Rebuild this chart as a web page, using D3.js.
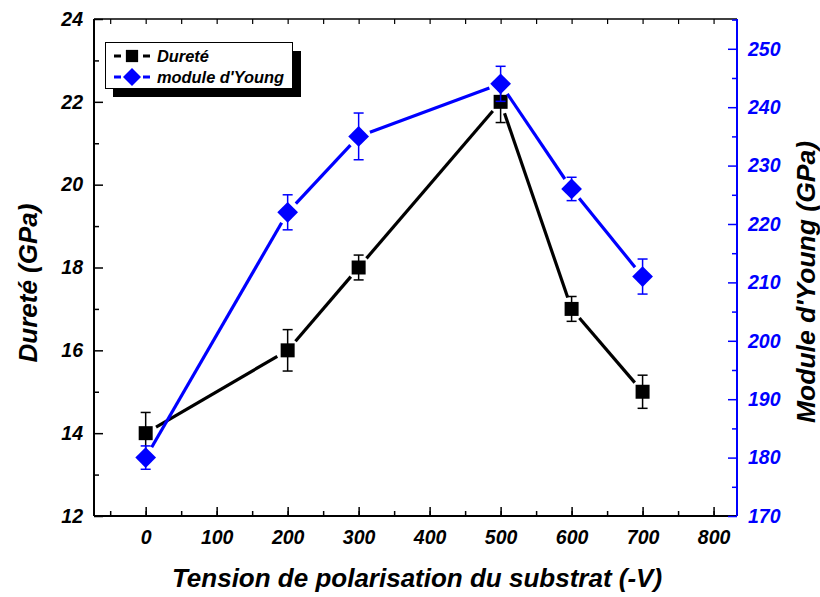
<!DOCTYPE html>
<html><head><meta charset="utf-8">
<script src="https://cdn.jsdelivr.net/npm/d3@7"></script>
<style>body{margin:0;background:#fff}svg{display:block}text{font-family:"Liberation Sans",Arial,sans-serif;font-weight:bold;font-style:italic}</style>
</head><body><svg id="c" width="820" height="597"></svg>
<script>
const tension = [0, 200, 300, 500, 600, 700];
const durete = [14, 16, 18, 22, 17, 15];
const dureteErr = [0.5, 0.5, 0.3, 0.5, 0.3, 0.4];
const young = [180, 222, 235, 244, 226, 211];
const youngErr = [2, 3, 4, 3, 2, 3];
const xTicks = [0, 100, 200, 300, 400, 500, 600, 700, 800];
const yLeftTicks = [12, 14, 16, 18, 20, 22, 24];
const yRightTicks = [170, 180, 190, 200, 210, 220, 230, 240, 250];
const labels = {x: "Tension de polarisation du substrat (-V)", yl: "Dureté (GPa)", yr: "Module d'Young (GPa)", s1: "Dureté", s2: "module d'Young"};

const L = 94, R = 737, T = 19, B = 516;
const svg = d3.select("#c");
const x = d3.scaleLinear().domain([-72.8, 833]).range([L, R]);
const yl = d3.scaleLinear().domain([12, 24]).range([B, T]);
const yr = d3.scaleLinear().domain([170, 255.1]).range([B, T]);
const blue = "#0000ff";
const tickFont = 19.5;

// frame top
svg.append("line").attr("x1", L).attr("x2", R).attr("y1", T).attr("y2", T).attr("stroke", "#000").attr("stroke-width", 1.5);

// bottom axis
const gx = svg.append("g").attr("transform", `translate(0,${B})`);
gx.call(d3.axisBottom(x).tickValues(d3.range(-50, 833, 50)).tickSize(-5).tickFormat("")).call(g => { g.select(".domain").remove(); g.selectAll("line").attr("stroke-width", 1.5); });
gx.append("g").call(d3.axisBottom(x).tickValues(xTicks).tickSize(-9).tickPadding(14)).call(g => {
  g.select(".domain").remove(); g.selectAll("line").attr("stroke-width", 1.5);
  g.selectAll("text").attr("font-size", tickFont).attr("fill", "#000").attr("font-family", null);
});
gx.append("line").attr("x1", L).attr("x2", R).attr("stroke", "#000").attr("stroke-width", 2);

// top ticks
const gt = svg.append("g").attr("transform", `translate(0,${T})`);
gt.call(d3.axisTop(x).tickValues(d3.range(-50, 833, 50)).tickSize(-5).tickFormat("")).call(g => { g.select(".domain").remove(); g.selectAll("line").attr("stroke-width", 1.2); });

// left axis
const gl = svg.append("g").attr("transform", `translate(${L},0)`);
gl.call(d3.axisLeft(yl).tickValues(d3.range(13, 24, 2)).tickSize(-5).tickFormat("")).call(g => { g.select(".domain").remove(); g.selectAll("line").attr("stroke-width", 1.5); });
gl.append("g").call(d3.axisLeft(yl).tickValues(yLeftTicks).tickSize(-9).tickPadding(11)).call(g => {
  g.select(".domain").remove(); g.selectAll("line").attr("stroke-width", 1.5);
  g.selectAll("text").attr("font-size", tickFont).attr("fill", "#000").attr("font-family", null);
});
gl.append("line").attr("y1", T).attr("y2", B).attr("stroke", "#000").attr("stroke-width", 2);

// right axis
const gr = svg.append("g").attr("transform", `translate(${R},0)`);
gr.call(d3.axisRight(yr).tickValues(d3.range(175, 256, 10)).tickSize(-5).tickFormat("")).call(g => { g.select(".domain").remove(); g.selectAll("line").attr("stroke", blue).attr("stroke-width", 1.5); });
gr.append("g").call(d3.axisRight(yr).tickValues(yRightTicks).tickSize(-9).tickPadding(11)).call(g => {
  g.select(".domain").remove(); g.selectAll("line").attr("stroke", blue).attr("stroke-width", 1.5);
  g.selectAll("text").attr("font-size", tickFont).attr("fill", blue).attr("font-family", null);
});
gr.append("line").attr("y1", T).attr("y2", B).attr("stroke", blue).attr("stroke-width", 2);

// titles
svg.append("text").attr("x", 417).attr("y", 587).attr("text-anchor", "middle").attr("font-size", 26).text(labels.x);
svg.append("text").attr("transform", "translate(37,283) rotate(-90)").attr("text-anchor", "middle").attr("font-size", 26).text(labels.yl);
svg.append("text").attr("transform", "translate(815,282) rotate(-90)").attr("text-anchor", "middle").attr("font-size", 26.5).text(labels.yr);

// series drawing
function drawSeries(xs, ys, errs, yScale, color, diamond, size, gap) {
  const pts = xs.map((v, i) => [x(v), yScale(ys[i])]);
  const g = svg.append("g");
  for (let i = 0; i < pts.length - 1; i++) {
    const [x1, y1] = pts[i], [x2, y2] = pts[i + 1];
    const d = Math.hypot(x2 - x1, y2 - y1), ux = (x2 - x1) / d, uy = (y2 - y1) / d;
    g.append("line").attr("x1", x1 + ux * gap).attr("y1", y1 + uy * gap).attr("x2", x2 - ux * gap).attr("y2", y2 - uy * gap)
      .attr("stroke", color).attr("stroke-width", 3.2);
  }
  xs.forEach((v, i) => {
    const cx = x(v), t = yScale(ys[i] + errs[i]), b = yScale(ys[i] - errs[i]);
    g.append("line").attr("x1", cx).attr("x2", cx).attr("y1", t).attr("y2", b).attr("stroke", color).attr("stroke-width", 1.5);
    [t, b].forEach(yy => g.append("line").attr("x1", cx - 5).attr("x2", cx + 5).attr("y1", yy).attr("y2", yy).attr("stroke", color).attr("stroke-width", 1.5));
  });
  g.selectAll("path.m").data(pts).join("path")
    .attr("d", d3.symbol().type(d3.symbolSquare).size(size))
    .attr("transform", d => `translate(${d[0]},${d[1]})` + (diamond ? " rotate(45)" : ""))
    .attr("fill", color);
}
drawSeries(tension, durete, dureteErr, yl, "#000", false, 196, 12);
drawSeries(tension, young, youngErr, yr, blue, true, 215, 12);

// legend
const lg = svg.append("g");
lg.append("rect").attr("x", 113).attr("y", 51).attr("width", 188).attr("height", 46).attr("fill", "#000");
lg.append("rect").attr("x", 105.5).attr("y", 42.5).attr("width", 187).attr("height", 46).attr("fill", "#fff").attr("stroke", "#000").attr("stroke-width", 1);
[[labels.s1, "#000", 56, false], [labels.s2, blue, 77, true]].forEach(([t, c, yy, dia]) => {
  lg.append("line").attr("x1", 114).attr("x2", 150).attr("y1", yy).attr("y2", yy).attr("stroke", c).attr("stroke-width", 3).attr("stroke-dasharray", "7,22,7");
  lg.append("path").attr("d", d3.symbol().type(d3.symbolSquare).size(dia ? 162 : 150)())
    .attr("transform", `translate(132,${yy})` + (dia ? " rotate(45)" : "")).attr("fill", c);
  lg.append("text").attr("x", 157).attr("y", yy + 6).attr("font-size", 16.4).attr("fill", "#000").text(t);
});
</script></body></html>
